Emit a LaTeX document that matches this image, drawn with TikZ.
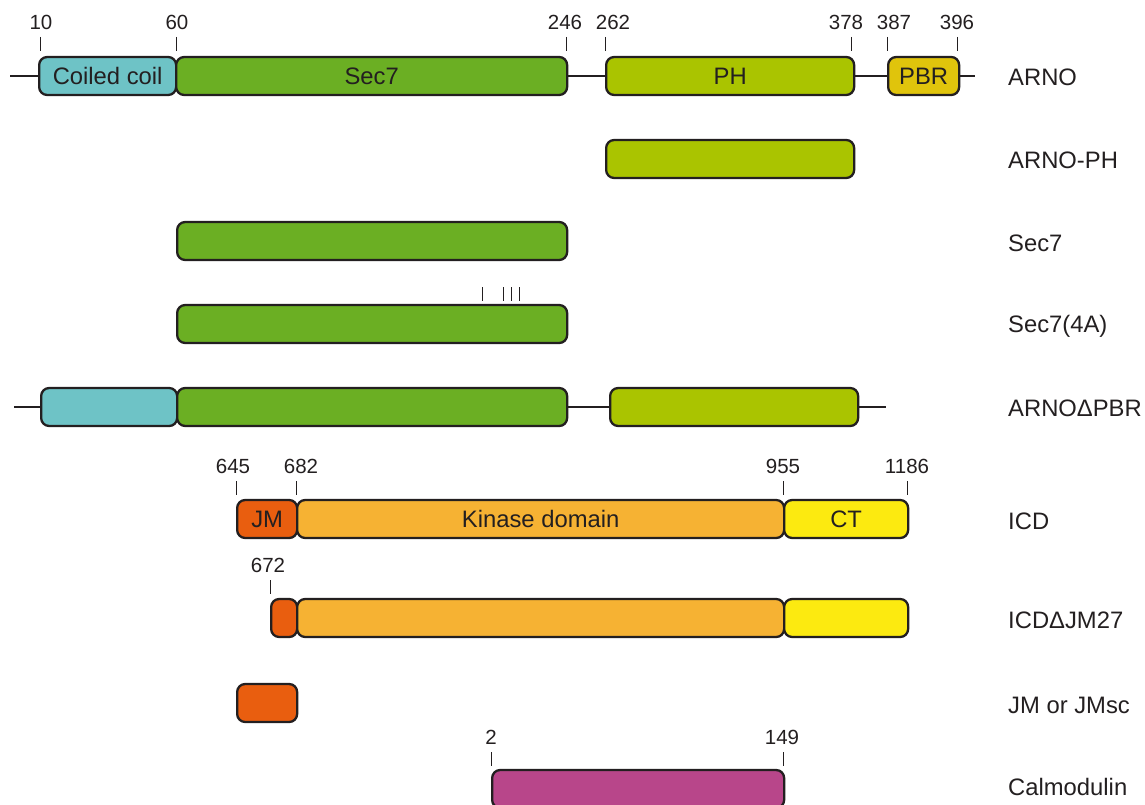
\documentclass[tikz,border=0pt]{standalone}
\usepackage{fontspec}
\setmainfont{Liberation Sans}
\definecolor{ink}{HTML}{231F20}
\definecolor{cccol}{HTML}{6EC3C6}
\definecolor{seccol}{HTML}{6BAF23}
\definecolor{phcol}{HTML}{AAC400}
\definecolor{pbrcol}{HTML}{E0C40C}
\definecolor{jmcol}{HTML}{E95E0F}
\definecolor{kincol}{HTML}{F6B233}
\definecolor{ctcol}{HTML}{FCEA10}
\definecolor{calcol}{HTML}{B8468A}
\tikzset{
  dom/.style={draw=ink, line width=2.3pt, rounded corners=8pt, minimum height=38pt,
    inner sep=0pt, anchor=west, text=ink, font=\fontsize{23.8}{24}\selectfont},
  bb/.style={draw=ink, line width=2.3pt},
  tick/.style={draw=ink, line width=1pt},
  num/.style={text=ink, font=\fontsize{20.5}{21}\selectfont, inner sep=0pt},
  lab/.style={text=ink, font=\fontsize{23.8}{24}\selectfont, inner sep=0pt, anchor=west}
}
\newcommand{\dom}[6]{\node[dom, fill=#5, minimum width={(#3-#2)*1pt}] (#1) at (#2,#4) {#6};}
% name, tick x, tick top y, text, text x
\newcommand{\tk}[5]{\coordinate (#1) at (#2,#3); \draw[tick] (#1) -- ++(0,14);
  \node[num] (#1n) at (#5,#3-15) {#4};}
\begin{document}
\begin{tikzpicture}[x=1pt,y=-1pt]
\useasboundingbox (0,0) rectangle (1145,805);
% ARNO
\coordinate (a0) at (10,76); \coordinate (a1) at (975,76);
\draw[bb] (a0) -- (40,76);
\draw[bb] (560,76) -- (610,76);
\draw[bb] (850,76) -- (890,76);
\draw[bb] (950,76) -- (a1);
\dom{acc}{38}{175}{76}{cccol}{Coiled coil}
\dom{asec}{175}{566}{76}{seccol}{Sec7}
\dom{aph}{605}{853}{76}{phcol}{PH}
\dom{apbr}{887}{958}{76}{pbrcol}{PBR}
\tk{t10}{40}{37}{10}{41}
\tk{t60}{176}{37}{60}{177}
\tk{t246}{566}{37}{246}{565}
\tk{t262}{605}{37}{262}{613}
\tk{t378}{851}{37}{378}{846}
\tk{t387}{887}{37}{387}{894}
\tk{t396}{957}{37}{396}{957}
\node[lab] (l1) at (1008,77) {ARNO};
% ARNO-PH
\dom{bph}{605}{853}{159}{phcol}{}
\node[lab] (l2) at (1008,160) {ARNO-PH};
% Sec7
\dom{csec}{176}{566}{241}{seccol}{}
\node[lab] (l3) at (1008,243) {Sec7};
% Sec7(4A)
\foreach \x [count=\i] in {482,503,511,519}{\coordinate (m\i) at (\x,287); \draw[tick] (m\i) -- ++(0,14);}
\dom{dsec}{176}{566}{324}{seccol}{}
\node[lab] (l4) at (1008,326) {Sec7(4A)};
% ARNO dPBR
\coordinate (e0) at (14,407); \coordinate (e1) at (886,407);
\draw[bb] (e0) -- (42,407);
\draw[bb] (560,407) -- (615,407);
\draw[bb] (850,407) -- (e1);
\dom{ecc}{40}{176}{407}{cccol}{}
\dom{esec}{176}{566}{407}{seccol}{}
\dom{eph}{609}{857}{407}{phcol}{}
\node[lab] (l5) at (1008,408) {ARNOΔPBR};
% ICD
\dom{fjm}{236}{296}{519}{jmcol}{JM}
\dom{fkin}{296}{783}{519}{kincol}{Kinase domain}
\dom{fct}{783}{907}{519}{ctcol}{CT}
\tk{t645}{236}{481}{645}{233}
\tk{t682}{296}{481}{682}{301}
\tk{t955}{783}{481}{955}{783}
\tk{t1186}{907}{481}{1186}{907}
\node[lab] (l6) at (1008,521) {ICD};
% ICD dJM27
\dom{gjm}{270}{296}{618}{jmcol}{}
\dom{gkin}{296}{783}{618}{kincol}{}
\dom{gct}{783}{907}{618}{ctcol}{}
\tk{t672}{270}{580}{672}{268}
\node[lab] (l7) at (1008,620) {ICDΔJM27};
% JM
\dom{hjm}{236}{296}{703}{jmcol}{}
\node[lab] (l8) at (1008,705) {JM or JMsc};
% Calmodulin
\dom{ical}{491}{783}{789}{calcol}{}
\tk{t2}{491}{752}{2}{491}
\tk{t149}{783}{752}{149}{782}
\node[lab] (l9) at (1008,787) {Calmodulin};
\end{tikzpicture}
\end{document}
